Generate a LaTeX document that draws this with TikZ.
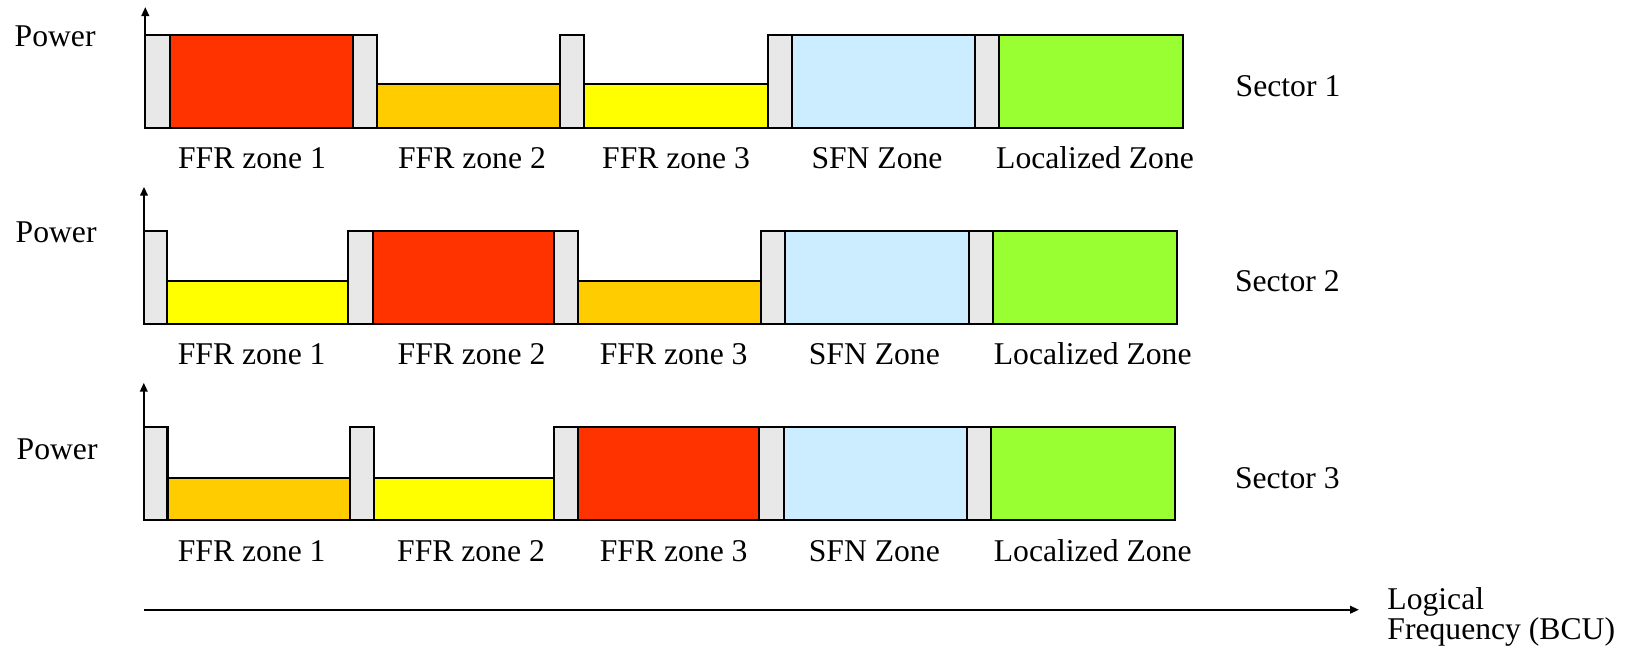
\documentclass[tikz,border=0pt]{standalone}
\usepackage{fontspec}
\setmainfont{Liberation Serif}
\usetikzlibrary{arrows.meta}

\definecolor{ffrred}{HTML}{FF3300}
\definecolor{ffrorange}{HTML}{FFCC00}
\definecolor{ffryellow}{HTML}{FFFF00}
\definecolor{sfnblue}{HTML}{CCECFF}
\definecolor{locgreen}{HTML}{99FF33}
\definecolor{guardgray}{HTML}{E8E8E8}

\tikzset{
  band/.style={draw, line width=0.6pt, inner sep=0pt, outer sep=0pt, anchor=south west},
  axis/.style={line width=0.6pt, -{Triangle[length=0.09cm, width=0.075cm]}},
  lbl/.style={anchor=base, inner sep=0pt},
  side/.style={anchor=base west, inner sep=0pt},
}

\begin{document}
\begin{tikzpicture}[x=0.01cm, y=-0.01cm, font=\fontsize{9}{10.8}\selectfont]
    \useasboundingbox (0,0) rectangle (1634,653);

    % Sector 1
    \foreach \n/\l/\r/\c/\h in {g1/145.3/170.3/guardgray/0.93, z1/170.3/353/ffrred/0.93,
        g2/353/377.3/guardgray/0.93, z2/377.3/560/ffrorange/0.436,
        g3/560/584.3/guardgray/0.93, z3/584.3/767.7/ffryellow/0.436,
        g4/767.7/791.7/guardgray/0.93, z4/791.7/975.3/sfnblue/0.93,
        g5/975.3/999/guardgray/0.93, z5/999/1182.7/locgreen/0.93}
        \node[band, fill=\c, minimum width={(\r-\l)*0.01cm}, minimum height=\h cm] (s1\n) at (\l,128) {};
    \coordinate (s1top) at (145.3,7);
    \draw[axis] (s1g1.south west) -- (s1top);
    \node[side] (power1) at (14,46.7) {Power};
    \node[side] (sector1) at (1235,96) {Sector 1};
    \foreach \i/\x/\t in {1/252/FFR zone 1, 2/472/FFR zone 2, 3/676/FFR zone 3, 4/877/SFN Zone, 5/1095/Localized Zone}
        \node[lbl] (s1lab\i) at (\x,168.5) {\t};

    % Sector 2
    \foreach \n/\l/\r/\c/\h in {g1/144/167.3/guardgray/0.93, z1/167.3/348.3/ffryellow/0.433,
        g2/348.3/372.7/guardgray/0.93, z2/372.7/554.3/ffrred/0.93,
        g3/554.3/578.3/guardgray/0.93, z3/578.3/760.7/ffrorange/0.433,
        g4/760.7/785.3/guardgray/0.93, z4/785.3/968.7/sfnblue/0.93,
        g5/968.7/992.7/guardgray/0.93, z5/992.7/1176.7/locgreen/0.93}
        \node[band, fill=\c, minimum width={(\r-\l)*0.01cm}, minimum height=\h cm] (s2\n) at (\l,324.3) {};
    \coordinate (s2top) at (144,186.7);
    \draw[axis] (s2g1.south west) -- (s2top);
    \node[side] (power2) at (15,242.7) {Power};
    \node[side] (sector2) at (1234.3,291.7) {Sector 2};
    \foreach \i/\x/\t in {1/251.7/FFR zone 1, 2/471.5/FFR zone 2, 3/673.7/FFR zone 3, 4/874.3/SFN Zone, 5/1092.7/Localized Zone}
        \node[lbl] (s2lab\i) at (\x,364.3) {\t};

    % Sector 3
    \foreach \n/\l/\r/\c/\h in {g1/143.8/167.5/guardgray/0.927, z1/167.5/350/ffrorange/0.423,
        g2/350/374/guardgray/0.927, z2/374/554/ffryellow/0.423,
        g3/554/578.3/guardgray/0.927, z3/578.3/759.3/ffrred/0.927,
        g4/759.3/783.7/guardgray/0.927, z4/783.7/967/sfnblue/0.927,
        g5/967/991/guardgray/0.927, z5/991/1174.7/locgreen/0.927}
        \node[band, fill=\c, minimum width={(\r-\l)*0.01cm}, minimum height=\h cm] (s3\n) at (\l,520) {};
    \coordinate (s3top) at (143.8,382.7);
    \draw[axis] (s3g1.south west) -- (s3top);
    \node[side] (power3) at (16,459.3) {Power};
    \node[side] (sector3) at (1234.3,488.3) {Sector 3};
    \foreach \i/\x/\t in {1/251.7/FFR zone 1, 2/471/FFR zone 2, 3/673.7/FFR zone 3, 4/874.3/SFN Zone, 5/1092.7/Localized Zone}
        \node[lbl] (s3lab\i) at (\x,561) {\t};

    % frequency axis
    \coordinate (f0) at (144,609.7);
    \coordinate (f1) at (1359,609.7);
    \draw[axis] (f0) -- (f1);
    \node[side] (logical) at (1386.7,609.3) {Logical};
    \node[side] (freq) at (1386.7,639) {Frequency (BCU)};
\end{tikzpicture}
\end{document}
